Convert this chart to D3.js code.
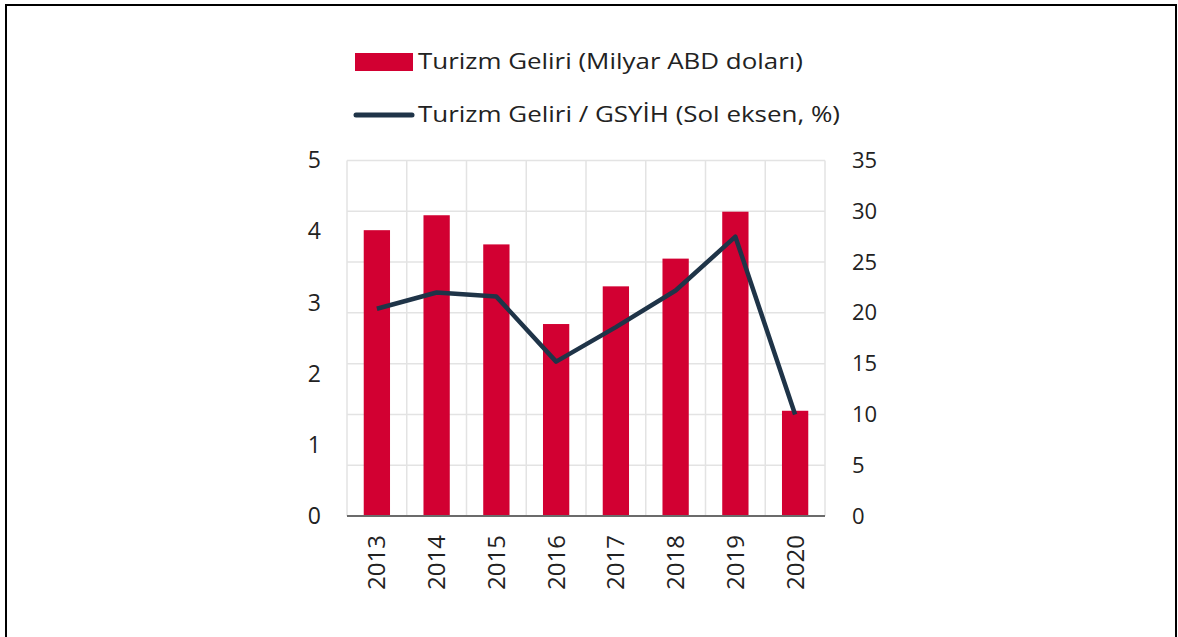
<!DOCTYPE html>
<html><head><meta charset="utf-8">
<script src="https://cdn.jsdelivr.net/npm/d3@7"></script>
<style>body{margin:0;background:#fff}svg{display:block;font-family:"Open Sans",sans-serif}</style>
</head><body><svg id="c" width="1178" height="637"></svg>
<script>
const years = ["2013","2014","2015","2016","2017","2018","2019","2020"];
const revenue = [4.02, 4.23, 3.82, 2.70, 3.23, 3.62, 4.28, 1.48];
const ratio = [20.4, 22.0, 21.6, 15.2, 18.6, 22.2, 27.5, 10.0];
const leftTicks = [0,1,2,3,4,5];
const rightTicks = [0,5,10,15,20,25,30,35];
const legendLabels = ["Turizm Geliri (Milyar ABD doları)", "Turizm Geliri / GSYİH (Sol eksen, %)"];

const svg = d3.select("#c");
svg.append("rect").attr("x",6).attr("y",5).attr("width",1170).attr("height",700)
  .attr("fill","none").attr("stroke","#000").attr("stroke-width",2);

const L=347, R=825, T=160.5, B=516;
const x = d3.scaleBand().domain(years).range([L,R]).paddingInner(0.56).paddingOuter(0.28);
const band = d3.scaleBand().domain(years).range([L,R]);
const yL = d3.scaleLinear().domain([0,5]).range([B,T]);
const yR = d3.scaleLinear().domain([0,35]).range([B,T]);

const grid = svg.append("g");
grid.selectAll("line.h").data(rightTicks.slice(1)).join("line")
  .attr("x1",L).attr("x2",R).attr("y1",d=>yR(d)).attr("y2",d=>yR(d))
  .attr("stroke","#e3e3e3").attr("stroke-width",1.5);
const vx = years.map(d=>band(d)).concat([R]);
grid.selectAll("line.v").data(vx).join("line")
  .attr("x1",d=>d).attr("x2",d=>d).attr("y1",T).attr("y2",B)
  .attr("stroke","#e3e3e3").attr("stroke-width",1.5);

svg.append("g").selectAll("rect").data(years).join("rect")
  .attr("x",d=>x(d)).attr("width",x.bandwidth())
  .attr("y",(d,i)=>yL(revenue[i])).attr("height",(d,i)=>B-yL(revenue[i]))
  .attr("fill","#d20032");

svg.append("line").attr("x1",L).attr("x2",R).attr("y1",B).attr("y2",B)
  .attr("stroke","#6b6b6b").attr("stroke-width",2);

const line = d3.line().x((d,i)=>x(years[i])+x.bandwidth()/2).y(d=>yR(d));
svg.append("path").datum(ratio).attr("d",line).attr("fill","none")
  .attr("stroke","#1f3448").attr("stroke-width",4.5).attr("stroke-linejoin","round");

const axL = d3.axisLeft(yL).tickValues(leftTicks).tickFormat(d3.format("d")).tickSize(0).tickPadding(0);
const gL = svg.append("g").attr("transform",`translate(321,0)`).call(axL);
gL.select(".domain").remove();
gL.selectAll("text").attr("font-size",23).attr("fill","#222").attr("font-family","Open Sans");

const axR = d3.axisRight(yR).tickValues(rightTicks).tickSize(0).tickPadding(0);
const gR = svg.append("g").attr("transform",`translate(852,0)`).call(axR);
gR.select(".domain").remove();
gR.selectAll("text").attr("font-size",22).attr("fill","#222").attr("font-family","Open Sans");

const axB = d3.axisBottom(x).tickSize(0).tickPadding(0);
const gB = svg.append("g").attr("transform",`translate(0,${B})`).call(axB);
gB.select(".domain").remove();
gB.selectAll("text").attr("font-size",24).attr("fill","#222").attr("font-family","Open Sans")
  .attr("text-anchor","end").attr("dy","0.35em")
  .attr("transform","translate(0,19) rotate(-90)").attr("x",0).attr("y",0);

const lg = svg.append("g");
lg.append("rect").attr("x",355).attr("y",53).attr("width",58).attr("height",18).attr("fill","#d20032");
lg.append("line").attr("x1",356).attr("x2",412).attr("y1",115).attr("y2",115)
  .attr("stroke","#1f3448").attr("stroke-width",5).attr("stroke-linecap","round");
lg.selectAll("text").data(legendLabels).join("text")
  .attr("x",418).attr("y",(d,i)=>i?122:69).attr("font-size",21).attr("fill","#222")
  .attr("textLength",(d,i)=>i?422:385).attr("lengthAdjust","spacingAndGlyphs")
  .text(d=>d);
</script></body></html>
